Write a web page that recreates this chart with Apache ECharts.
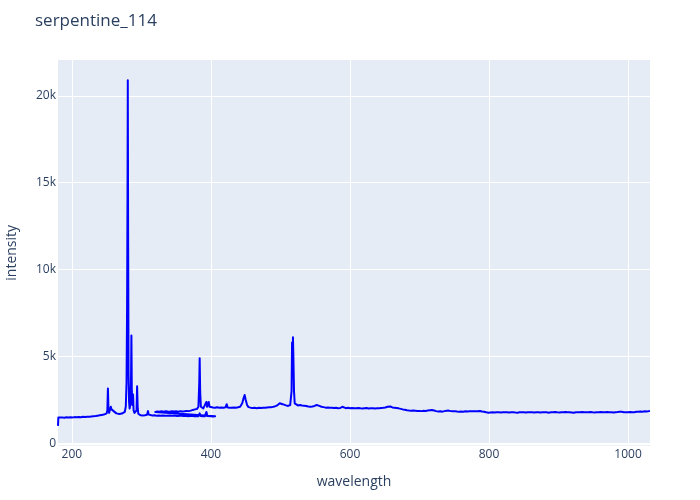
<!DOCTYPE html>
<html>
<head>
<meta charset="utf-8">
<script src="https://cdn.jsdelivr.net/npm/echarts@6/dist/echarts.min.js"></script>
<style>html,body{margin:0;padding:0;background:#fff}#chart{width:700px;height:500px}</style>
</head>
<body>
<div id="chart"></div>
<script>
// Channel 1 (UV) spectrum
const ch1Wavelength = [180.0,180.5,183,186,189,192,195,198,201,204,207,210,213,216,219,222,225,228,231,234,237,240,243,246,248,250,251,251.8,252.6,253.5,255,256,257,258,259,260,262,264,266,268,270,272,274,276,277.5,278.6,279.4,280.0,280.4,280.9,281.5,282.2,283,284,285,285.6,286.2,287,288,288.7,290,291.5,293,293.8,294.6,295.5,297,299,302,305,308,309.5,310.5,313,316,319,322,325,328,331,334,337,340,343,346,349,352,355,358,361,364,367,370,373,376,379,382,383.8,385,388,391,393.5,395,397,400,403,406,408];
const ch1Intensity = [1000,1480,1470,1490,1475,1495,1480,1500,1490,1505,1495,1510,1500,1520,1510,1530,1525,1545,1560,1570,1590,1610,1630,1650,1680,1720,1900,3150,2000,1750,1800,2100,1950,2050,1900,1850,1780,1720,1700,1690,1700,1710,1750,1800,2100,3500,8000,14500,20900,12000,4000,2400,2000,2200,3500,6200,3000,2200,2800,1900,1750,1700,1900,3280,2100,1700,1620,1610,1600,1610,1640,1850,1650,1620,1600,1610,1590,1600,1580,1600,1590,1580,1600,1590,1580,1590,1570,1580,1590,1570,1580,1560,1570,1580,1560,1570,1560,1720,1570,1560,1550,1800,1570,1560,1550,1540,1550,1540];
// Channel 2 (VIS/NIR) spectrum
const ch2Wavelength = [320,323,326,329,332,335,338,341,344,347,350,353,356,359,362,365,368,371,374,377,380,382,383.2,383.8,384.5,385.5,387,389,391,393.4,394.5,396,396.8,398,400,403,406,409,412,415,418,421,422.7,424,427,430,433,436,439,442,445,447,448.5,450,452,454,457,460,463,466,469,472,475,478,481,484,487,490,493,496,499,501,503,505,508,511,514,516,516.7,517.3,518.0,518.6,519.5,520.5,522,525,528,531,534,537,540,543,546,549,552,554,556,559,562,565,568,571,574,577,580,583,586,589,591,594,597,600,603,606,609,612,615,618,621,624,627,630,633,636,639,642,645,648,651,654,656.5,658,661,664,667,670,673,676,679,682,685,688,691,694,697,700,703,706,709,712,715,718,721,724,727,730,733,736,739,742,745,748,751,754,757,760,763,766,769,772,775,777,778.5,781,784,787,790,793,796,799,802,805,808,811,814,817,820,823,826,829,832,835,838,841,844,847,850,853,856,859,862,865,868,871,874,877,880,883,886,889,892,895,898,901,904,907,910,913,916,919,922,925,928,931,934,937,940,943,946,949,952,955,958,961,964,967,970,973,976,979,982,985,988,991,994,997,1000,1003,1006,1009,1012,1015,1018,1021,1024,1027,1030,1031.6];
const ch2Intensity = [1800,1830,1810,1840,1820,1850,1830,1820,1850,1830,1840,1820,1850,1830,1840,1860,1850,1880,1920,1950,1980,2100,3500,4900,3000,2100,2000,2010,2050,2380,2100,2150,2380,2100,2050,2060,2040,2070,2050,2060,2040,2070,2250,2060,2050,2040,2060,2050,2070,2100,2300,2600,2780,2500,2200,2080,2050,2030,2040,2020,2040,2030,2050,2040,2060,2070,2080,2100,2140,2200,2300,2330,2250,2200,2180,2150,2200,3000,5800,4500,6100,5000,3000,2300,2200,2180,2200,2170,2160,2150,2120,2100,2120,2150,2200,2250,2150,2100,2080,2050,2060,2040,2050,2030,2040,2020,2030,2100,2030,2020,2040,2020,2030,2010,2020,2030,2010,2000,2020,2030,2000,2010,2020,2000,2010,2020,2030,2040,2060,2100,2200,2120,2060,2050,2030,2010,1980,1950,1930,1900,1880,1870,1880,1870,1860,1860,1850,1870,1860,1880,1900,1920,1890,1850,1830,1840,1820,1850,1870,1880,1850,1840,1850,1830,1820,1830,1820,1840,1830,1840,1850,1960,1850,1830,1840,1860,1830,1810,1780,1760,1770,1780,1770,1790,1780,1770,1780,1790,1780,1770,1780,1790,1770,1760,1780,1790,1780,1770,1780,1790,1780,1770,1790,1780,1770,1780,1790,1780,1760,1780,1790,1800,1780,1770,1790,1780,1800,1790,1780,1770,1760,1780,1790,1780,1800,1790,1780,1790,1800,1780,1770,1780,1790,1800,1780,1790,1800,1790,1780,1770,1790,1800,1820,1810,1790,1780,1790,1800,1780,1790,1810,1820,1830,1820,1840,1830,1850,1860];
// Axis tick labels
const xTicks = [200, 400, 600, 800, 1000];
const yTicks = [0, 5000, 10000, 15000, 20000];
const yTickLabels = ['0', '5k', '10k', '15k', '20k'];

const data = [];
ch1Wavelength.forEach((w, i) => data.push([w, ch1Intensity[i]]));
ch2Wavelength.forEach((w, i) => data.push([w, ch2Intensity[i]]));

const font = '"Open Sans", verdana, arial, sans-serif';
const chart = echarts.init(document.getElementById('chart'), null, {renderer: 'canvas'});
chart.setOption({
  animation: false,
  backgroundColor: '#ffffff',
  title: {
    text: 'serpentine_114', left: 30, top: 8,
    textStyle: {fontFamily: font, fontSize: 17, fontWeight: 'normal', color: '#2a3f5f'}
  },
  grid: {left: 58, right: 50, top: 60, bottom: 54.3, show: true, backgroundColor: '#E5ECF6', borderWidth: 0,
    containLabel: false, outerBoundsMode: 'none'},
  xAxis: {
    type: 'value', min: 180, max: 1031.6,
    name: 'wavelength', nameLocation: 'middle', nameGap: 29,
    nameTextStyle: {fontFamily: font, fontSize: 14, color: '#2a3f5f'},
    axisLine: {show: false}, axisTick: {show: false, customValues: xTicks},
    axisLabel: {customValues: xTicks, fontFamily: font, fontSize: 12, color: '#2a3f5f', margin: 3,
      formatter: v => String(v)},
    splitLine: {show: true, lineStyle: {color: '#ffffff', width: 1}}
  },
  yAxis: {
    type: 'value', min: -140, max: 22060,
    name: 'intensity', nameLocation: 'middle', nameGap: 39,
    nameTextStyle: {fontFamily: font, fontSize: 14, color: '#2a3f5f'},
    axisLine: {show: false}, axisTick: {show: false, customValues: yTicks},
    axisLabel: {customValues: yTicks, fontFamily: font, fontSize: 12, color: '#2a3f5f', margin: 2,
      formatter: v => yTickLabels[yTicks.indexOf(v)] ?? ''},
    splitLine: {show: true, lineStyle: {color: '#ffffff', width: 1}}
  },
  series: [{
    type: 'line', data: data, showSymbol: false, symbol: 'none',
    lineStyle: {color: '#0000ff', width: 2, join: 'round'},
    markLine: {silent: true, symbol: 'none', label: {show: false}, z: 1,
      lineStyle: {color: '#ffffff', width: 2, type: 'solid'}, data: [{yAxis: 0}]}
  }]
});
</script>
</body>
</html>
